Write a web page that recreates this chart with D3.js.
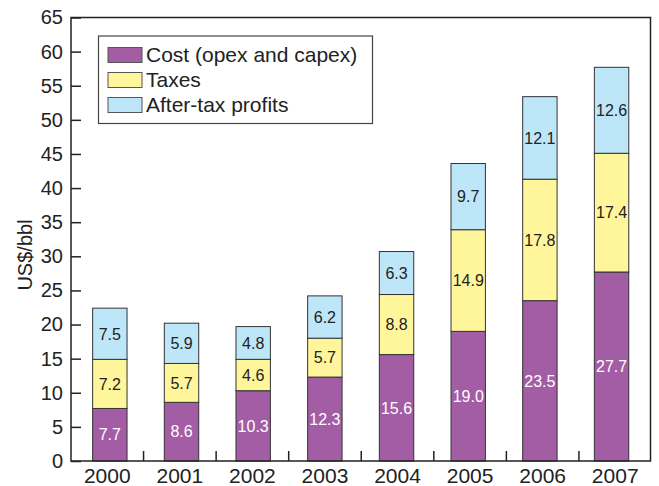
<!DOCTYPE html>
<html>
<head>
<meta charset="utf-8">
<script src="https://cdn.jsdelivr.net/npm/d3@7"></script>
<style>
  html, body { margin: 0; padding: 0; background: #fff; }
  svg { display: block; font-family: "Liberation Sans", Arial, Helvetica, sans-serif; }
</style>
</head>
<body>
<svg id="chart" width="659" height="486"></svg>
<script>
// Oil price breakdown per barrel, 2000–2007
const years = ["2000", "2001", "2002", "2003", "2004", "2005", "2006", "2007"];
const cost = [7.7, 8.6, 10.3, 12.3, 15.6, 19.0, 23.5, 27.7];
const taxes = [7.2, 5.7, 4.6, 5.7, 8.8, 14.9, 17.8, 17.4];
const profits = [7.5, 5.9, 4.8, 6.2, 6.3, 9.7, 12.1, 12.6];
const seriesNames = ["Cost (opex and capex)", "Taxes", "After-tax profits"];
const seriesColors = ["#a35da5", "#fff59b", "#bde6f8"];
const labelColors = ["#ffffff", "#222222", "#222222"];
const yTicks = d3.range(0, 66, 5);

const svg = d3.select("#chart");
const plotLeft = 71, plotRight = 650.5, plotTop = 17.5, plotBottom = 461;

const y = d3.scaleLinear().domain([0, 65]).range([plotBottom, plotTop]);
// category slots for the axis (ticks between years, year labels)
const xAxisBand = d3.scaleBand().domain(years).range([plotLeft, plotRight + 1]).padding(0);
// bars
const x = d3.scaleBand().domain(years).range([74, 647.4]).paddingInner(0.52).paddingOuter(0.26);

const rows = years.map((yr, i) => ({ year: yr, cost: cost[i], taxes: taxes[i], profits: profits[i] }));
const keys = ["cost", "taxes", "profits"];
const stacked = d3.stack().keys(keys)(rows);

// bars
const layers = svg.append("g").selectAll("g").data(stacked).join("g")
  .attr("fill", (d, i) => seriesColors[i]);
layers.selectAll("rect").data(d => d).join("rect")
  .attr("x", d => x(d.data.year))
  .attr("width", x.bandwidth())
  .attr("y", d => y(d[1]))
  .attr("height", d => y(d[0]) - y(d[1]))
  .attr("stroke", "#333")
  .attr("stroke-width", 1);

// value labels centred in each segment
stacked.forEach((layer, li) => {
  svg.append("g").selectAll("text").data(layer).join("text")
    .attr("x", d => x(d.data.year) + x.bandwidth() / 2)
    .attr("y", d => (y(d[0]) + y(d[1])) / 2)
    .attr("dy", "0.36em")
    .attr("text-anchor", "middle")
    .attr("font-size", 16)
    .attr("fill", labelColors[li])
    .text(d => d.data[keys[li]].toFixed(1));
});

// plot frame
svg.append("rect")
  .attr("x", plotLeft).attr("y", plotTop)
  .attr("width", plotRight - plotLeft).attr("height", plotBottom - plotTop)
  .attr("fill", "none").attr("stroke", "#222").attr("stroke-width", 1.5);

// y axis, ticks pointing inward
const yAxis = svg.append("g").attr("transform", `translate(${plotLeft},0)`)
  .call(d3.axisLeft(y).tickValues(yTicks).tickSize(-10).tickPadding(8));
yAxis.select(".domain").remove();
yAxis.selectAll(".tick line").attr("stroke", "#222").attr("stroke-width", 1.5);
yAxis.selectAll(".tick text").attr("font-size", 20).attr("fill", "#222")
  .attr("font-family", "Liberation Sans, Arial, sans-serif");

// x axis: separator ticks between years, pointing up
svg.append("g").selectAll("line").data(years.slice(1)).join("line")
  .attr("x1", d => xAxisBand(d)).attr("x2", d => xAxisBand(d))
  .attr("y1", plotBottom).attr("y2", plotBottom - 10)
  .attr("stroke", "#222").attr("stroke-width", 1.5);
svg.append("g").selectAll("text").data(years).join("text")
  .attr("x", d => xAxisBand(d) + xAxisBand.bandwidth() / 2)
  .attr("y", 483)
  .attr("text-anchor", "middle")
  .attr("font-size", 21)
  .attr("fill", "#222")
  .text(d => d);

// y axis title
svg.append("text")
  .attr("transform", "translate(32,255) rotate(-90)")
  .attr("text-anchor", "middle")
  .attr("font-size", 20)
  .attr("fill", "#222")
  .text("US$/bbl");

// legend
const legend = svg.append("g");
legend.append("rect")
  .attr("x", 98.5).attr("y", 36).attr("width", 274).attr("height", 87.5)
  .attr("fill", "#fff").attr("stroke", "#444").attr("stroke-width", 1.2);
const items = legend.selectAll("g.item").data(seriesNames).join("g")
  .attr("class", "item")
  .attr("transform", (d, i) => `translate(108,${47.5 + i * 25})`);
items.append("rect")
  .attr("width", 34).attr("height", 15)
  .attr("fill", (d, i) => seriesColors[i])
  .attr("stroke", "#555").attr("stroke-width", 1);
items.append("text")
  .attr("x", 38).attr("y", 14.5)
  .attr("font-size", 21)
  .attr("fill", "#222")
  .text(d => d);
</script>
</body>
</html>
